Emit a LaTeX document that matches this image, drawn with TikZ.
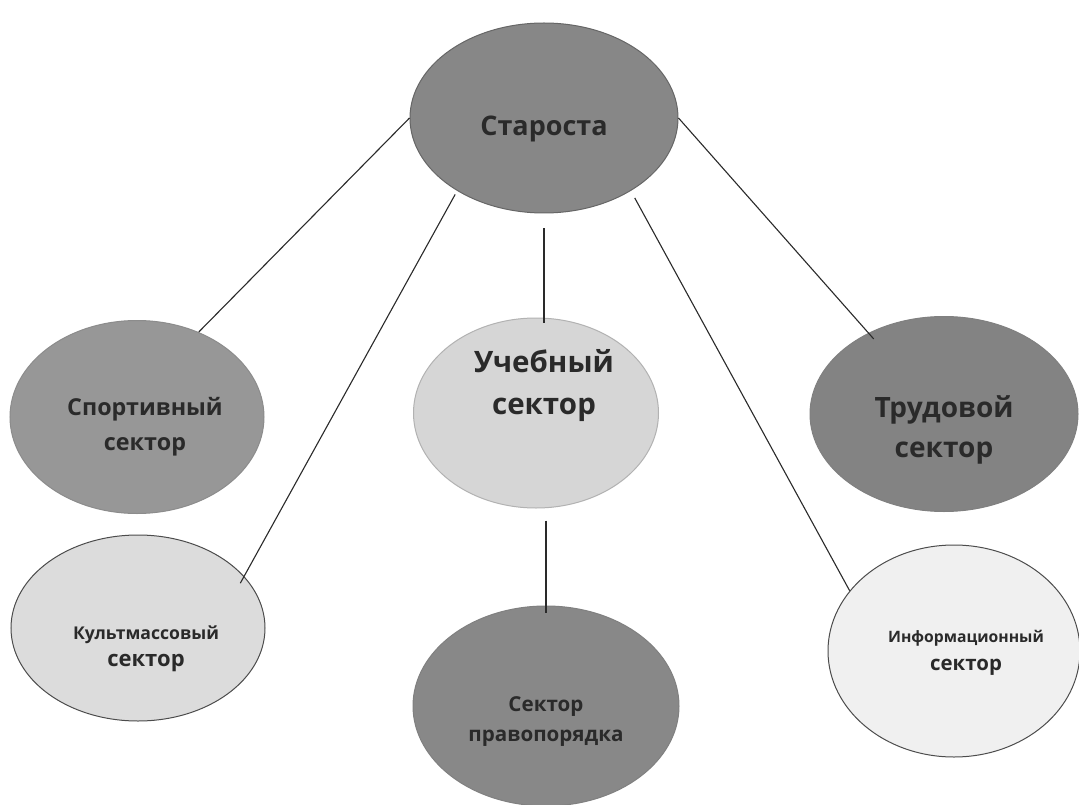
\documentclass[tikz,border=0pt]{standalone}
\usepackage{fontspec}
\setmainfont{Open Sans}
\usetikzlibrary{shapes.geometric,calc}
\definecolor{cstar}{HTML}{878787}
\definecolor{csport}{HTML}{979797}
\definecolor{cucheb}{HTML}{D6D6D6}
\definecolor{ctrud}{HTML}{838383}
\definecolor{ckult}{HTML}{DCDCDC}
\definecolor{cinfo}{HTML}{F0F0F0}
\definecolor{cpravo}{HTML}{888888}
\definecolor{ctext}{HTML}{2A2A2A}
\begin{document}
\begin{tikzpicture}[x=1pt,y=-1pt]
\tikzset{
  sec/.style={ellipse, inner sep=0pt, line width=1pt},
  lbl/.style={font=\bfseries, text=ctext, align=center, inner sep=0pt},
  link/.style={draw=ctext, line width=1.1pt},
}
\useasboundingbox[fill=white] (0,0) rectangle (1079,805);

\node[sec, fill=cstar, draw=black!60, minimum width=268pt, minimum height=190pt,
  label={[lbl, font=\bfseries\fontsize{27}{35}\selectfont, yshift=-11pt]center:Староста}] (star) at (544,118) {};

\node[sec, fill=csport, draw=black!45, minimum width=254pt, minimum height=193pt,
  label={[lbl, font=\bfseries\fontsize{23.3}{35}\selectfont, xshift=8pt, yshift=-10pt]center:Спортивный\\сектор}] (sport) at (137,417) {};

\node[sec, fill=cucheb, draw=black!30, minimum width=245pt, minimum height=190pt,
  label={[lbl, font=\bfseries\fontsize{29.5}{42}\selectfont, xshift=8pt, yshift=27pt]center:Учебный\\сектор}] (ucheb) at (536,413) {};

\node[sec, fill=ctrud, draw=black!50, minimum width=268pt, minimum height=195pt,
  label={[lbl, font=\bfseries\fontsize{28}{40}\selectfont, yshift=-16pt]center:Трудовой\\сектор}] (trud) at (944,414) {};

\node[sec, fill=ckult, draw=black!70, minimum width=254pt, minimum height=186pt,
  label={[lbl, font=\bfseries\fontsize{17.6}{27}\selectfont, xshift=8pt, yshift=-21pt]center:Культмассовый\\{\fontsize{22}{27}\selectfont сектор}}] (kult) at (138,628) {};

\node[sec, fill=cinfo, draw=black!70, minimum width=252pt, minimum height=212pt,
  label={[lbl, font=\bfseries\fontsize{15.7}{28}\selectfont, xshift=12pt, yshift=-2pt]center:Информационный\\{\fontsize{20.4}{28}\selectfont сектор}}] (info) at (954,651) {};

\node[sec, fill=cpravo, draw=black!50, minimum width=266pt, minimum height=200pt,
  label={[lbl, font=\bfseries\fontsize{20.6}{30}\selectfont, yshift=-16pt]center:Сектор\\правопорядка}] (pravo) at (546,706) {};

\draw[link] (star.180) -- (sport.54);
\draw[link, shorten <=4pt, shorten >=-8pt] (star.220) -- (kult.26);
\draw[link] ($(star.south)+(0,15)$) -- ($(ucheb.north -| star.south)+(0,5)$);
\draw[link] ($(ucheb.south -| pravo.north)+(0,12)$) -- ($(pravo.north)+(0,7)$);
\draw[link, shorten <=8pt] (star.320) -- (info.150);
\draw[link, shorten >=-8pt] (star.0) -- (trud.133);
\end{tikzpicture}
\end{document}
